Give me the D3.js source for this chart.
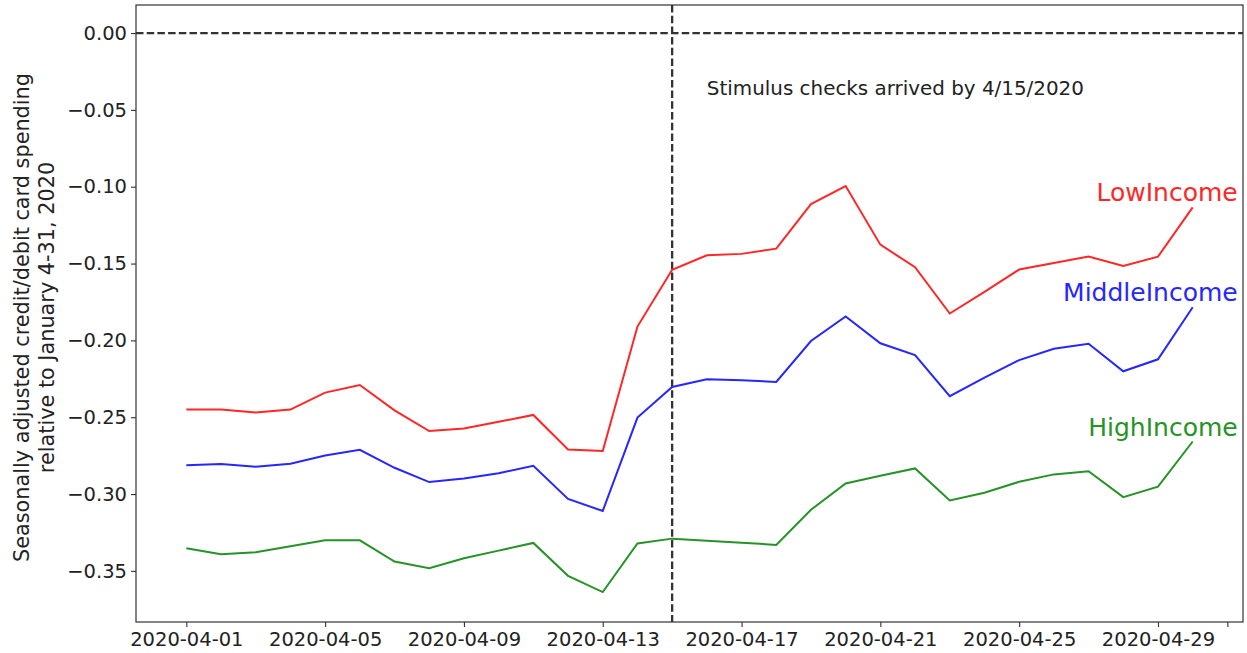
<!DOCTYPE html>
<html>
<head>
<meta charset="utf-8">
<script src="https://cdn.jsdelivr.net/npm/d3@7"></script>
<style>
  body { margin: 0; background: #fff; }
  text { font-family: "DejaVu Sans", sans-serif; }
</style>
</head>
<body>
<div id="chart-area"></div>
<script>
// Spending relative to January, by income group (April 2020)
const dates = d3.utcDay.range(new Date(Date.UTC(2020, 3, 1)), new Date(Date.UTC(2020, 4, 1)))

const lowIncome = [-0.245, -0.245, -0.247, -0.245, -0.234, -0.229, -0.2455, -0.259, -0.2574, -0.253,
  -0.2485, -0.271, -0.272, -0.191, -0.154, -0.1446, -0.1437, -0.1403, -0.1113, -0.0996,
  -0.1377, -0.1524, -0.1825, -0.1684, -0.1539, -0.1496, -0.1455, -0.1515, -0.1455, -0.1134]
const middleIncome = [-0.2812, -0.2805, -0.2823, -0.2803, -0.2749, -0.2712, -0.2829, -0.2922, -0.2898, -0.2864,
  -0.2816, -0.3032, -0.311, -0.2502, -0.2303, -0.2253, -0.226, -0.227, -0.2004, -0.1844,
  -0.2019, -0.2095, -0.2363, -0.2242, -0.2128, -0.2054, -0.2022, -0.2201, -0.2123, -0.1784]
const highIncome = [-0.3353, -0.3392, -0.3379, -0.334, -0.3301, -0.3301, -0.3439, -0.3482, -0.3418, -0.3368,
  -0.3318, -0.3532, -0.3638, -0.3321, -0.329, -0.3303, -0.3316, -0.3331, -0.3102, -0.2931,
  -0.2881, -0.2833, -0.3041, -0.2991, -0.292, -0.2872, -0.2851, -0.302, -0.2952, -0.2658]

const seriesNames = ["LowIncome", "MiddleIncome", "HighIncome"]
const seriesColors = ["#ff2626", "#2626ff", "#269326"]

const xTickLabels = ["2020-04-01", "2020-04-05", "2020-04-09", "2020-04-13", "2020-04-17",
  "2020-04-21", "2020-04-25", "2020-04-29", "2020-05-01"]
const yTickValues = [0, -0.05, -0.1, -0.15, -0.2, -0.25, -0.3, -0.35]

const stimulusDate = new Date(Date.UTC(2020, 3, 15))
const noteText = "Stimulus checks arrived by 4/15/2020"
const noteDate = new Date(Date.UTC(2020, 3, 16))
const noteValue = -0.04

const W = 1247, H = 653
const MARGIN = { LEFT: 136, RIGHT: 4, TOP: 5, BOTTOM: 31 }
const DAY = 864e5

const svg = d3.select("#chart-area").append("svg")
  .attr("width", W)
  .attr("height", H)

// Scales (matplotlib-like 5% margins)
const x = d3.scaleUtc()
  .domain([new Date(dates[0] - 1.45 * DAY), new Date(+dates[dates.length - 1] + 1.45 * DAY)])
  .range([MARGIN.LEFT, W - MARGIN.RIGHT])
const y = d3.scaleLinear()
  .domain([-0.38325, 0.01825])
  .range([H - MARGIN.BOTTOM, MARGIN.TOP])

// X Axis
const xAxisCall = d3.axisBottom(x)
  .tickValues(xTickLabels.map(s => new Date(s + "T00:00:00Z")))
  .tickFormat(d => d.getUTCMonth() === 4 ? "" : d3.utcFormat("%Y-%m-%d")(d))
  .tickSizeInner(5)
  .tickSizeOuter(0)
  .tickPadding(5)
const xAxis = svg.append("g")
  .attr("transform", `translate(0, ${H - MARGIN.BOTTOM})`)
  .call(xAxisCall)
xAxis.select(".domain").remove()
xAxis.selectAll("line").attr("stroke", "#333").attr("stroke-width", 1.1)
xAxis.selectAll("text")
  .attr("font-size", "19.5px")
  .attr("fill", "#222")

// Y Axis
const yAxisCall = d3.axisLeft(y)
  .tickValues(yTickValues)
  .tickFormat(d3.format(".2f"))
  .tickSizeInner(5)
  .tickSizeOuter(0)
  .tickPadding(4)
const yAxis = svg.append("g")
  .attr("transform", `translate(${MARGIN.LEFT}, 0)`)
  .call(yAxisCall)
yAxis.select(".domain").remove()
yAxis.selectAll("line").attr("stroke", "#333").attr("stroke-width", 1.1)
yAxis.selectAll("text")
  .attr("font-size", "19.5px")
  .attr("fill", "#222")

// Y label (two lines)
const yLabel = svg.append("text")
  .attr("transform", `translate(33, ${(MARGIN.TOP + H - MARGIN.BOTTOM) / 2 + 4}) rotate(-90)`)
  .attr("text-anchor", "middle")
  .attr("font-size", "20.8px")
  .attr("fill", "#222")
yLabel.append("tspan").attr("x", 0).attr("dy", "-0.2em").text("Seasonally adjusted credit/debit card spending")
yLabel.append("tspan").attr("x", 0).attr("dy", "1.2em").text("relative to January 4-31, 2020")

// Reference lines
svg.append("line")
  .attr("x1", MARGIN.LEFT).attr("x2", W - MARGIN.RIGHT)
  .attr("y1", y(0)).attr("y2", y(0))
  .attr("stroke", "#333").attr("stroke-width", 2.3)
  .attr("stroke-dasharray", "7.5,3.2")
svg.append("line")
  .attr("x1", x(stimulusDate)).attr("x2", x(stimulusDate))
  .attr("y1", MARGIN.TOP).attr("y2", H - MARGIN.BOTTOM)
  .attr("stroke", "#333").attr("stroke-width", 2.3)
  .attr("stroke-dasharray", "7.5,3.2")

// Lines
const line = d3.line()
  .x((d, i) => x(dates[i]))
  .y(d => y(d))
const allSeries = [lowIncome, middleIncome, highIncome]

allSeries.forEach((values, k) => {
  svg.append("path")
    .datum(values)
    .attr("fill", "none")
    .attr("stroke", seriesColors[k])
    .attr("stroke-width", 2)
    .attr("d", line)

  const last = values.length - 1
  svg.append("text")
    .attr("x", x(dates[last]) + 45)
    .attr("y", y(values[last]) - 6)
    .attr("text-anchor", "end")
    .attr("font-size", "25px")
    .attr("fill", seriesColors[k])
    .text(seriesNames[k])
})

// Annotation
svg.append("text")
  .attr("x", x(noteDate))
  .attr("y", y(noteValue))
  .attr("font-size", "19.9px")
  .attr("fill", "#222")
  .text(noteText)

// Frame
svg.append("rect")
  .attr("x", MARGIN.LEFT)
  .attr("y", MARGIN.TOP)
  .attr("width", W - MARGIN.LEFT - MARGIN.RIGHT)
  .attr("height", H - MARGIN.TOP - MARGIN.BOTTOM)
  .attr("fill", "none")
  .attr("stroke", "#333")
  .attr("stroke-width", 1.2)
</script>
</body>
</html>
